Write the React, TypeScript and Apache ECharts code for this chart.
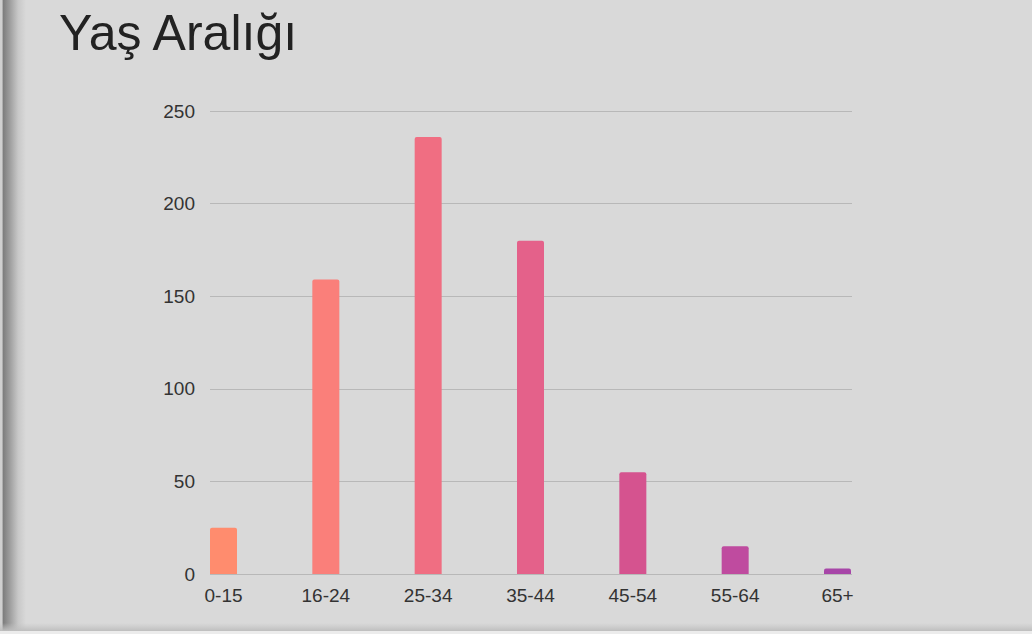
import React, { useEffect, useRef } from "react";
import * as echarts from "echarts";

const categories = ["0-15", "16-24", "25-34", "35-44", "45-54", "55-64", "65+"];
const values = [25, 159, 236, 180, 55, 15, 3];
const barColors = ["#ff8c6e", "#fa7f7a", "#f06e82", "#e4618a", "#d5538f", "#bf4b9f", "#a746a8"];
const yTicks = { min: 0, max: 250, interval: 50 };
const title = "Yaş Aralığı";

export default function App() {
  const ref = useRef<HTMLDivElement>(null);
  useEffect(() => {
    if (!ref.current) return;
    const chart = echarts.init(ref.current, undefined, { renderer: "svg" });
    const font = "'Liberation Sans', Arial, sans-serif";
    chart.setOption({
      animation: false,
      backgroundColor: "#d9d9d9",
      textStyle: { fontFamily: font },
      graphic: [
        {
          type: "rect",
          shape: { x: 0, y: 0, width: 26, height: 634 },
          style: {
            fill: new echarts.graphic.LinearGradient(0, 0, 1, 0, [
              { offset: 0, color: "#d0d0d0" },
              { offset: 0.08, color: "#d0d0d0" },
              { offset: 0.12, color: "#7d7d7d" },
              { offset: 0.35, color: "#9a9a9a" },
              { offset: 0.7, color: "#c8c8c8" },
              { offset: 1, color: "#d9d9d9" },
            ]),
          },
          z: -1,
        },
        {
          type: "rect",
          shape: { x: 0, y: 623, width: 1032, height: 8 },
          style: {
            fill: new echarts.graphic.LinearGradient(0, 0, 0, 1, [
              { offset: 0, color: "rgba(195,195,195,0)" },
              { offset: 1, color: "rgba(190,190,190,1)" },
            ]),
          },
          z: -1,
        },
        {
          type: "rect",
          shape: { x: 0, y: 631, width: 1032, height: 3 },
          style: { fill: "#ececec" },
          z: -1,
        },
        {
          type: "text",
          left: 59,
          top: 8,
          style: { text: title, font: `50px ${font}`, fill: "#222222" },
        },
      ],
      grid: [
        { left: 223.5, right: 194.5, top: 111, bottom: 60 },
        { left: 210, right: 180, top: 111, bottom: 60 },
      ],
      xAxis: [
        {
          type: "category",
          gridIndex: 0,
          data: categories,
          boundaryGap: false,
          axisLine: { show: false },
          axisTick: { show: false },
          axisLabel: { color: "#333333", fontSize: 19, margin: 12, fontFamily: font },
          splitLine: { show: false },
        },
        {
          type: "value",
          gridIndex: 1,
          min: 0,
          max: 1,
          show: false,
        },
      ],
      yAxis: [
        {
          type: "value",
          gridIndex: 0,
          ...yTicks,
          show: false,
        },
        {
          type: "value",
          gridIndex: 1,
          ...yTicks,
          axisLine: { show: false },
          axisTick: { show: false },
          axisLabel: { color: "#333333", fontSize: 19, margin: 15, fontFamily: font },
          splitLine: { lineStyle: { color: "#b8b8b8", width: 1 } },
        },
      ],
      series: [
        {
          type: "bar",
          xAxisIndex: 0,
          yAxisIndex: 0,
          barWidth: 27,
          data: values.map((v, i) => ({
            value: v,
            itemStyle: { color: barColors[i], borderRadius: [2, 2, 0, 0] },
          })),
          z: 3,
        },
      ],
    });
    return () => chart.dispose();
  }, []);
  return (
    <div
      ref={ref}
      style={{ position: "absolute", left: 0, top: 0, width: 1032, height: 634 }}
    />
  );
}
